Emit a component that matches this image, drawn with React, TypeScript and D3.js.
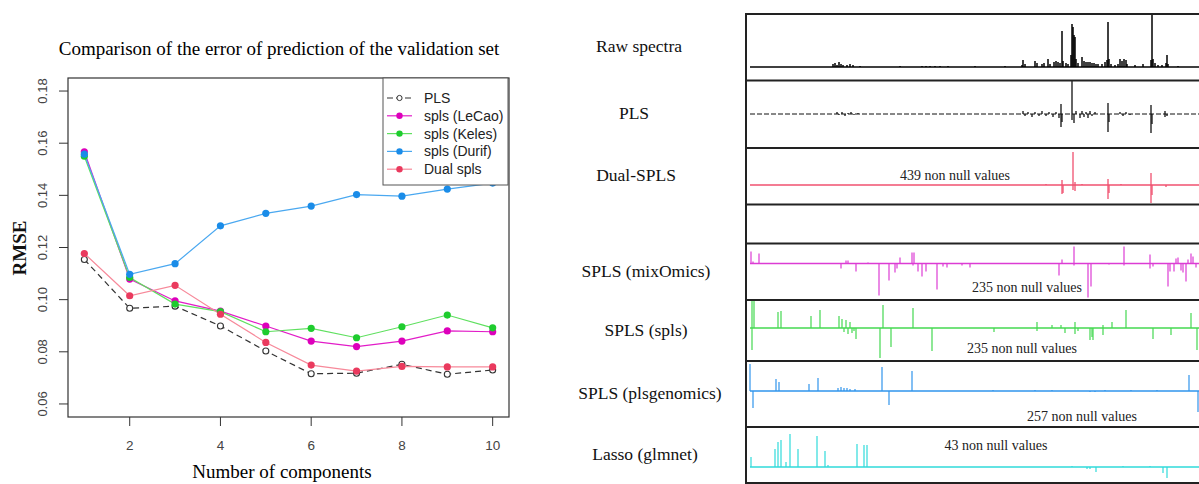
import React from "react"
import * as d3 from "d3"

// left chart data
const components = [1, 2, 3, 4, 5, 6, 7, 8, 9, 10]
const plsRmse = [0.1154, 0.0967, 0.0975, 0.0899, 0.0803, 0.0716, 0.0718, 0.0752, 0.0714, 0.073]
const lecaoRmse = [0.1567, 0.1079, 0.0995, 0.0956, 0.0899, 0.0841, 0.082, 0.0841, 0.088, 0.0877]
const kelesRmse = [0.155, 0.1085, 0.0983, 0.0954, 0.0877, 0.089, 0.0854, 0.0896, 0.0941, 0.0892]
const durifRmse = [0.1558, 0.1097, 0.1138, 0.1283, 0.1331, 0.1359, 0.1403, 0.1397, 0.1424, 0.1447]
const dualRmse = [0.1177, 0.1015, 0.1055, 0.0944, 0.0836, 0.0749, 0.0726, 0.0744, 0.0742, 0.0742]
const yTicks = [0.06, 0.08, 0.1, 0.12, 0.14, 0.16, 0.18]
const xTicks = [2, 4, 6, 8, 10]

// right panels: [variable index, coefficient]
const rawSpikes: [number, number][] = [
  [83, 3], [85, 4], [87, 2], [89, 5], [91, 3], [93, 2], [97, 2], [100, 3], [103, 2], [110, 1],
  [150, 1], [172, 1], [176, 1], [180, 1], [185, 1], [190, 1], [198, 1], [225, 1], [255, 1],
  [272, 2], [273, 7], [275, 3], [285, 6], [287, 4], [292, 3], [294, 4], [298, 8], [300, 3],
  [304, 5], [306, 6], [308, 5], [310, 4], [312, 36], [313, 6], [316, 4], [318, 3], [321, 12],
  [322, 43], [323, 40], [324, 32], [325, 30], [326, 8], [328, 4], [332, 10], [334, 6], [336, 5],
  [338, 5], [340, 5], [342, 4], [344, 4], [346, 3], [348, 3], [352, 3], [355, 5], [357, 7],
  [358, 45], [359, 8], [361, 3], [365, 2], [368, 3], [370, 8], [372, 6], [374, 8], [376, 7],
  [377, 3], [385, 2], [393, 3], [401, 7], [402, 60], [403, 8], [405, 4], [408, 2], [412, 2],
  [416, 4], [417, 12], [418, 3], [428, 1],
]
const plsSpikes: [number, number][] = [
  [87, 2], [89, -1], [92, 2], [95, -2], [98, 1], [101, 2], [104, -1], [108, 1],
  [273, 3], [275, -2], [278, 2], [282, -3], [285, 2], [289, -2], [292, 3], [296, -2], [299, 2],
  [303, -3], [306, 2], [309, -4], [311, 10], [311, -13], [312, -8], [322, 34], [322, -6],
  [324, -9], [326, 3], [330, -4], [332, 3], [334, -3], [336, 2], [338, -4], [340, 3], [342, -2],
  [345, 2], [358, 11], [358, -18], [359, -8], [370, 2], [373, -2], [376, 2], [380, -1],
  [401, 9], [401, -19], [402, -10], [415, 3], [415, -3], [417, -2],
]
const dualSpikes: [number, number][] = [
  [296, 1], [312, 5], [312, -9], [313, -8], [323, 33], [323, -5], [325, 3], [325, -6], [332, 1],
  [358, 6], [358, -14], [359, -8], [371, 1], [401, 12], [401, -18], [402, -10], [416, -2],
]
const mixSpikes: [number, number][] = [
  [1, 12], [3, 2], [9, 10], [91, -5], [96, 3], [98, 3], [106, -8], [118, 1], [129, -32],
  [139, -17], [145, -9], [147, -5], [150, 6], [162, 11], [163, -2], [164, 11], [168, -8],
  [172, -13], [176, -8], [187, -26], [193, -3], [197, -4], [212, -2], [220, -4], [309, -12],
  [312, 4], [324, 17], [324, -2], [338, -34], [341, -23], [359, -1], [374, 17], [374, -2],
  [400, 9], [400, -5], [403, -3], [418, -23], [420, -8], [424, -8], [426, 5], [428, 6],
  [431, -7], [433, -9], [436, -18], [438, 4], [441, 10], [443, 7], [446, -4],
]
const splsSpikes: [number, number][] = [
  [2, 28], [2, -22], [4, 28], [28, 16], [31, 17], [61, 12], [70, 18], [89, 12], [92, 9],
  [94, -4], [96, 8], [98, -6], [100, 6], [102, -5], [104, -3], [106, -11], [130, -30],
  [133, 23], [141, -19], [163, 20], [182, -23], [244, -4], [287, 6], [287, -3], [302, 3],
  [311, 3], [315, -5], [325, 6], [325, -6], [328, -3], [340, -12], [342, -9], [343, -12],
  [353, -7], [353, 3], [362, 6], [376, 18], [403, -11], [421, -7], [441, 15], [447, -22],
]
const genoSpikes: [number, number][] = [
  [0, 27], [3, -17], [26, 12], [29, 9], [59, 7], [68, 13], [88, 3], [91, 4], [94, 3], [97, 3],
  [100, 2], [105, 2], [132, 24], [139, -14], [162, 20], [243, 1], [285, 1], [302, 1],
  [340, -1], [345, -1], [355, 1], [381, 1], [407, 1], [439, 16], [448, -21],
]
const lassoSpikes: [number, number][] = [
  [1, 10], [25, 18], [28, 25], [31, 27], [36, 5], [40, 33], [48, 18], [67, 31], [75, 16],
  [78, 2], [107, 23], [114, 22], [117, 22], [322, 1], [337, -2], [340, -2], [346, -5],
  [373, 1], [400, 1], [413, -6], [417, -11],
]

const series = [
  { name: "PLS", values: plsRmse, line: "#333333", point: "#333333", open: true },
  { name: "spls (LeCao)", values: lecaoRmse, line: "#e21cc8", point: "#dd00bb", open: false },
  { name: "spls (Keles)", values: kelesRmse, line: "#5fe05f", point: "#1ecc2e", open: false },
  { name: "spls (Durif)", values: durifRmse, line: "#4aa8f0", point: "#1a8ce8", open: false },
  { name: "Dual spls", values: dualRmse, line: "#f7899a", point: "#ea3a5e", open: false },
]

const panels = [
  { label: "Raw spectra", lx: 639, top: 14, bottom: 80.5, base: 67, spikes: rawSpikes, color: "#000", width: 1.5, dashed: false, note: "", nx: 0, ny: 0 },
  { label: "PLS", lx: 634, top: 80.5, bottom: 148, base: 114, spikes: plsSpikes, color: "#111", width: 1.3, dashed: true, note: "", nx: 0, ny: 0 },
  { label: "Dual-SPLS", lx: 636, top: 148, bottom: 204.5, base: 185, spikes: dualSpikes, color: "#f0506f", width: 1.3, dashed: false, note: "439 non null values", nx: 955, ny: 180 },
  { label: "SPLS (mixOmics)", lx: 646, top: 243.5, bottom: 300, base: 263.5, spikes: mixSpikes, color: "#dc3cd4", width: 1.2, dashed: false, note: "235 non null values", nx: 1027, ny: 292 },
  { label: "SPLS (spls)", lx: 646, top: 300, bottom: 361, base: 328, spikes: splsSpikes, color: "#44d850", width: 1.2, dashed: false, note: "235 non null values", nx: 1022, ny: 353 },
  { label: "SPLS (plsgenomics)", lx: 650, top: 361, bottom: 427, base: 391, spikes: genoSpikes, color: "#2f94ec", width: 1.2, dashed: false, note: "257 non null values", nx: 1082, ny: 421 },
  { label: "Lasso (glmnet)", lx: 645, top: 427, bottom: 483, base: 467, spikes: lassoSpikes, color: "#2fdada", width: 1.2, dashed: false, note: "43 non null values", nx: 996, ny: 450 },
]
const frameLines = [14, 80.5, 148, 204.5, 243.5, 300, 361, 427, 483]

const serif = "'Liberation Serif', 'Times New Roman', serif"
const sans = "'Liberation Sans', Arial, sans-serif"

const App = () => {
  // left chart scales
  const plot = { left: 68, right: 509, top: 78, bottom: 417 }
  const x = d3.scaleLinear().domain([0.64, 10.36]).range([plot.left, plot.right])
  const y = d3.scaleLinear().domain([0.055, 0.185]).range([plot.bottom, plot.top])
  const lineGen = d3
    .line<number>()
    .x((_, i) => x(components[i]))
    .y((d) => y(d))

  // spectra x scale
  const xs = d3.scaleLinear().domain([0, 450]).range([750, 1200])

  const legend = { x: 383, y: 78, w: 125, h: 107 }

  return (
    <svg
      width={1199}
      height={484}
      style={{ position: "absolute", left: 0, top: 0, background: "#fff" }}
    >
      <defs>
        <clipPath id="plotClip">
          <rect x={plot.left} y={plot.top} width={plot.right - plot.left} height={plot.bottom - plot.top} />
        </clipPath>
        {panels.map((p, i) => (
          <clipPath id={`pc${i}`} key={i}>
            <rect x={747} y={p.top} width={460} height={p.bottom - p.top} />
          </clipPath>
        ))}
      </defs>

      {/* title */}
      <text x={279} y={55} textAnchor="middle" fontFamily={serif} fontSize={19} fill="#000">
        Comparison of the error of prediction of the validation set
      </text>

      {/* lines */}
      <g clipPath="url(#plotClip)">
        {series.map((s) => (
          <path
            key={s.name}
            d={lineGen(s.values) ?? ""}
            fill="none"
            stroke={s.line}
            strokeWidth={1.2}
            strokeDasharray={s.open ? "6 4" : undefined}
          />
        ))}
        {series.map((s) =>
          s.values.map((v, i) => (
            <circle
              key={s.name + i}
              cx={x(components[i])}
              cy={y(v)}
              r={s.open ? 3 : 3.6}
              fill={s.open ? "#fff" : s.point}
              stroke={s.point}
              strokeWidth={s.open ? 1.1 : 0}
            />
          )),
        )}
      </g>

      {/* box */}
      <rect
        x={plot.left}
        y={plot.top}
        width={plot.right - plot.left}
        height={plot.bottom - plot.top}
        fill="none"
        stroke="#333"
        strokeWidth={1.2}
      />

      {/* y axis */}
      {yTicks.map((t) => (
        <g key={t}>
          <line x1={plot.left - 9} x2={plot.left} y1={y(t)} y2={y(t)} stroke="#333" strokeWidth={1} />
          <text
            transform={`translate(47,${y(t)}) rotate(-90)`}
            textAnchor="middle"
            fontFamily={sans}
            fontSize={13}
            fill="#444"
          >
            {t.toFixed(2)}
          </text>
        </g>
      ))}
      <text
        transform={`translate(26,248) rotate(-90)`}
        textAnchor="middle"
        fontFamily={serif}
        fontWeight="bold"
        fontSize={19}
        fill="#111"
      >
        RMSE
      </text>

      {/* x axis */}
      {xTicks.map((t) => (
        <g key={t}>
          <line x1={x(t)} x2={x(t)} y1={plot.bottom} y2={plot.bottom + 9} stroke="#333" strokeWidth={1} />
          <text x={x(t)} y={450} textAnchor="middle" fontFamily={sans} fontSize={13.5} fill="#444">
            {t}
          </text>
        </g>
      ))}
      <text x={282} y={478} textAnchor="middle" fontFamily={serif} fontSize={19} fill="#000">
        Number of components
      </text>

      {/* legend */}
      <rect x={legend.x} y={legend.y} width={legend.w} height={legend.h} fill="#fff" stroke="#555" strokeWidth={1} />
      {series.map((s, i) => {
        const ly = 98 + i * 17.8
        return (
          <g key={s.name}>
            <line
              x1={387}
              x2={412}
              y1={ly}
              y2={ly}
              stroke={s.line}
              strokeWidth={1.2}
              strokeDasharray={s.open ? "6 3" : undefined}
            />
            <circle
              cx={399.5}
              cy={ly}
              r={s.open ? 2.6 : 3.2}
              fill={s.open ? "#fff" : s.point}
              stroke={s.point}
              strokeWidth={s.open ? 1 : 0}
            />
            <text x={424} y={ly + 5} fontFamily={sans} fontSize={14} fill="#222">
              {s.name}
            </text>
          </g>
        )
      })}

      {/* right: spectra panels */}
      {panels.map((p, i) => {
        const ys = d3
          .scaleLinear()
          .domain([-(p.bottom - p.base), p.base - p.top])
          .range([p.bottom, p.top])
        return (
          <g key={p.label}>
            <text
              x={p.lx}
              y={(p.top + p.bottom) / 2 + 5}
              textAnchor="middle"
              fontFamily={serif}
              fontSize={17.5}
              fill="#111"
            >
              {p.label}
            </text>
            <g clipPath={`url(#pc${i})`}>
              <line
                x1={xs(0)}
                x2={xs(450)}
                y1={ys(0)}
                y2={ys(0)}
                stroke={p.color}
                strokeWidth={p.dashed ? 1 : 1.4}
                strokeDasharray={p.dashed ? "5 2" : undefined}
              />
              {p.spikes.map(([pos, v], j) => (
                <line
                  key={j}
                  x1={xs(pos)}
                  x2={xs(pos)}
                  y1={ys(0)}
                  y2={ys(v)}
                  stroke={p.color}
                  strokeWidth={p.width}
                />
              ))}
            </g>
            {p.note && (
              <text x={p.nx} y={p.ny} textAnchor="middle" fontFamily={serif} fontSize={14} fill="#222">
                {p.note}
              </text>
            )}
          </g>
        )
      })}
      {frameLines.map((fy) => (
        <line key={fy} x1={745} x2={1199} y1={fy} y2={fy} stroke="#222" strokeWidth={2} />
      ))}
      <line x1={746} x2={746} y1={13} y2={484} stroke="#222" strokeWidth={2} />
    </svg>
  )
}

export default App
